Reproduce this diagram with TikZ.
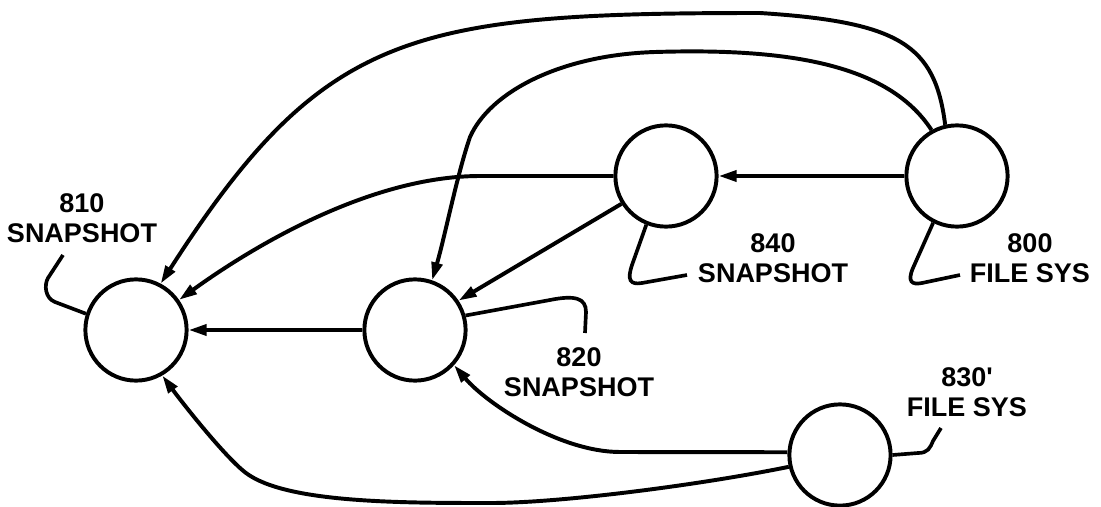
\documentclass[tikz,border=0pt]{standalone}
\usepackage{fontspec}
\setmainfont{Liberation Sans}
\usetikzlibrary{arrows.meta,positioning}

\begin{document}
\begin{tikzpicture}[x=0.025cm, y=-0.025cm,
    snap/.style={circle, draw, line width=2.8pt, minimum size=2.53cm, inner sep=0pt},
    lbl/.style={align=center, font=\fontsize{19.2}{21.3}\selectfont\bfseries, inner sep=0pt},
    arr/.style={line width=2.8pt, -{Triangle[length=0.45cm, width=0.27cm]}},
    lead/.style={line width=2.6pt}]
    \useasboundingbox (0,0) rectangle (1101,507);

    % circles
    \node[snap] (n810) at (136,330) {};
    \node[snap] (n820) at (415,330) {};
    \node[snap] (n840) at (666,176) {};
    \node[snap] (n800) at (957,176) {};
    \node[snap] (n830) at (840,455) {};

    % labels
    \node[lbl] (t810) at (82,218) {810\\SNAPSHOT};
    \node[lbl] (t820) at (579,372) {820\\SNAPSHOT};
    \node[lbl] (t840) at (773,258) {840\\SNAPSHOT};
    \node[lbl] (t800) at (1030,258) {800\\FILE SYS};
    \node[lbl] (t830) at (967,392) {830\textquotesingle\\FILE SYS};

    % straight arrows
    \draw[arr] (n800.west) -- (n840.east);
    \draw[arr] (n820.west) -- (n810.east);
    \draw[arr] (n840.212) -- (n820.34);

    % curved arrows
    \draw[arr] (n800.103) .. controls (935,45) and (900,22) .. (760,13)
        .. controls (410,13) and (323,31) .. (n810.62);
    \draw[arr] (n800.119) .. controls (888,63) and (785,48) .. (655,52)
        .. controls (560,55) and (490,92) .. (470,137)
        .. controls (457,175) and (445,236) .. (n820.71);
    \draw[arr] (n840.west) -- (480,176) .. controls (380,176) and (269,235) .. (n810.35);
    \draw[arr] (n830.177) -- (620,452) .. controls (560,452) and (487,404) .. (n820.-42);
    \draw[arr] (n830.193) .. controls (700,485) and (560,503) .. (491,503)
        .. controls (400,503) and (286,503) .. (246,473)
        .. controls (226,458) and (184,405) .. (n810.-60);

    % leaders
    \coordinate (e810) at (63,255);
    \coordinate (e820) at (585,333);
    \coordinate (e840) at (687,275);
    \coordinate (e800) at (960,275);
    \coordinate (e830) at (941,428);
    \draw[lead] (n810.162) -- (55,302) .. controls (45,298) and (44,285) .. (48,278) -- (e810);
    \draw[lead] (n820.16) -- (550,300) .. controls (575,295) and (586,298) .. (586,312) -- (e820);
    \draw[lead] (n840.248) -- (632,265) .. controls (627,280) and (630,285) .. (642,283) -- (e840);
    \draw[lead] (n800.243) -- (913,268) .. controls (907,282) and (912,285) .. (922,283) -- (e800);
    \draw[lead] (n830.east) -- (918,453) .. controls (928,453) and (930,448) .. (933,441) -- (e830);
\end{tikzpicture}
\end{document}
